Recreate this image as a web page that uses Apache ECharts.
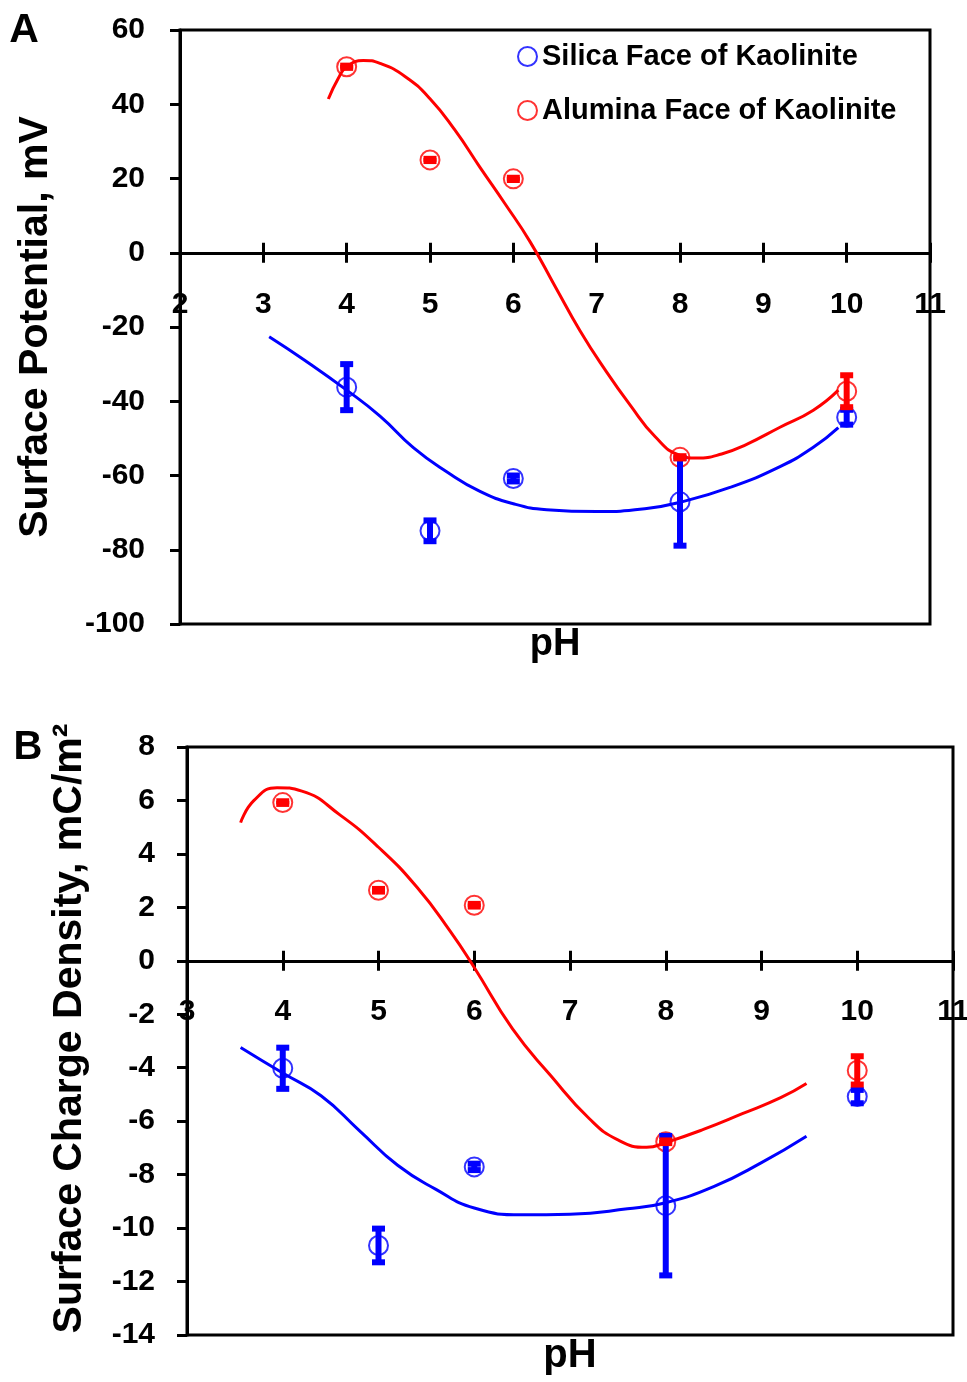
<!DOCTYPE html>
<html>
<head>
<meta charset="utf-8">
<script src="https://cdn.jsdelivr.net/npm/echarts@6/dist/echarts.min.js"></script>
<style>
html,body{margin:0;padding:0;background:#fff;}
#chart{width:967px;height:1382px;}
</style>
</head>
<body>
<div id="chart"></div>
<script>
// ---------- DATA ----------
const pH = [4, 5, 6, 8, 10];

// Panel A: surface potential, mV
const potSilica = [-36.2, -74.9, -60.8, -67.1, -44.3];
const potSilicaErr = [6.2, 2.8, 0.8, 11.8, 2.0];
const potAlumina = [50.1, 25.0, 19.9, -55.1, -37.3];
const potAluminaErr = [0.3, 0.3, 0.3, 0.3, 4.3];

const potSilicaFitPH = [3.07, 3.5, 4.0, 4.4, 4.8, 5.2, 5.6, 6.0, 6.4, 7.0, 7.6, 8.0, 8.6, 9.2, 9.6, 9.9];
const potSilicaFit = [-22.6, -29.0, -37.0, -44.0, -52.5, -59.0, -64.3, -67.6, -69.2, -69.7, -68.9, -67.2, -63.2, -57.6, -52.4, -47.1];
const potAluminaFitPH = [3.78, 3.9, 4.0, 4.2, 4.4, 4.7, 5.0, 5.3, 5.6, 5.9, 6.2, 6.5, 6.8, 7.1, 7.4, 7.7, 8.0, 8.2, 8.5, 8.8, 9.2, 9.6, 9.9];
const potAluminaFit = [41.4, 47.0, 50.1, 51.8, 51.0, 47.5, 41.5, 33.0, 23.0, 13.2, 3.0, -9.0, -21.0, -31.5, -41.0, -49.5, -54.6, -55.3, -54.2, -51.6, -47.0, -42.4, -37.0];

// Panel B: surface charge density, mC/m2
const chgSilica = [-4.02, -10.65, -7.71, -9.16, -5.08];
const chgSilicaErr = [0.77, 0.63, 0.12, 2.61, 0.25];
const chgAlumina = [5.92, 2.64, 2.08, -6.77, -4.1];
const chgAluminaErr = [0.05, 0.05, 0.05, 0.05, 0.53];

const chgSilicaFitPH = [3.56, 4.0, 4.4, 4.8, 5.2, 5.6, 6.0, 6.5, 7.0, 7.6, 8.0, 8.5, 9.0, 9.47];
const chgSilicaFit = [-3.24, -4.2, -5.05, -6.35, -7.65, -8.55, -9.25, -9.5, -9.48, -9.28, -9.05, -8.45, -7.55, -6.56];
const chgAluminaFitPH = [3.56, 3.7, 3.94, 4.2, 4.6, 5.0, 5.4, 5.75, 6.0, 6.4, 6.8, 7.2, 7.5, 7.8, 8.0, 8.4, 8.8, 9.2, 9.47];
const chgAluminaFit = [5.17, 6.0, 6.48, 6.35, 5.45, 4.25, 2.76, 1.1, -0.25, -2.55, -4.3, -5.9, -6.7, -6.98, -6.8, -6.3, -5.72, -5.12, -4.59];

const nameSilica = 'Silica Face of Kaolinite';
const nameAlumina = 'Alumina Face of Kaolinite';
const yTitleA = 'Surface Potential, mV';
const yTitleB = 'Surface Charge Density, mC/m\u00B2';

// ---------- HELPERS ----------
const FONT = 'Liberation Sans, Arial, Helvetica, sans-serif';
const BLUE = '#0000FF', RED = '#FF0000';
const zip = (a, b) => a.map((v, i) => [v, b[i]]);
const errData = (x, v, e) => x.map((xx, i) => [xx, v[i] - e[i], v[i] + e[i]]);

const gridA = {left: 180, top: 30, width: 750, height: 594};
const gridB = {left: 187, top: 747, width: 766, height: 588};
const yRangeA = [-100, 60], yRangeB = [-14, 8];
// offset that moves a bottom x-axis up to the y = 0 line of its grid
const zeroOffset = (g, r) => -g.height * (0 - r[0]) / (r[1] - r[0]);

function errRenderer(color) {
  return function (params, api) {
    const x = api.value(0), lo = api.value(1), hi = api.value(2);
    const pLo = api.coord([x, lo]);
    const pHi = api.coord([x, hi]);
    const bw = 6, cw = 13, ch = 6;
    return {
      type: 'group',
      children: [
        {type: 'rect', shape: {x: pHi[0] - bw / 2, y: pHi[1], width: bw, height: pLo[1] - pHi[1]}, style: {fill: color}},
        {type: 'rect', shape: {x: pHi[0] - cw / 2, y: pHi[1] - ch / 2, width: cw, height: ch}, style: {fill: color}},
        {type: 'rect', shape: {x: pLo[0] - cw / 2, y: pLo[1] - ch / 2, width: cw, height: ch}, style: {fill: color}}
      ]
    };
  };
}

function xAxesFor(gridIndex, min, max, off, labelMargin, nameGap, nameSize) {
  const base = {gridIndex: gridIndex, type: 'value', min: min, max: max, interval: 1, splitLine: {show: false}};
  return [
    Object.assign({}, base, {
      position: 'bottom', offset: off,
      axisLine: {show: true, onZero: false, lineStyle: {color: '#000', width: 3}},
      axisTick: {show: true, inside: false, length: 10, lineStyle: {color: '#000', width: 3}},
      axisLabel: {show: true, margin: labelMargin, color: '#000', fontSize: 30, fontWeight: 'bold', fontFamily: FONT,
                  showMinLabel: true, showMaxLabel: true, hideOverlap: false}
    }),
    Object.assign({}, base, {
      position: 'bottom', offset: off,
      axisLine: {show: false, onZero: false},
      axisTick: {show: true, inside: true, length: 10, lineStyle: {color: '#000', width: 3}},
      axisLabel: {show: false}
    }),
    Object.assign({}, base, {
      position: 'bottom',
      axisLine: {show: false, onZero: false},
      axisTick: {show: false},
      axisLabel: {show: false},
      name: 'pH', nameLocation: 'middle', nameGap: nameGap,
      nameTextStyle: {color: '#000', fontSize: nameSize, fontWeight: 'bold', fontFamily: FONT}
    })
  ];
}

function yAxisFor(gridIndex, range, interval, labelMargin, title, nameGap, pad) {
  return {
    gridIndex: gridIndex, type: 'value', min: range[0], max: range[1], interval: interval, position: 'left',
    splitLine: {show: false},
    axisLine: {show: true, onZero: false, lineStyle: {color: '#000', width: 3}},
    axisTick: {show: true, inside: false, length: 10, lineStyle: {color: '#000', width: 3}},
    axisLabel: {margin: labelMargin, color: '#000', fontSize: 30, fontWeight: 'bold', fontFamily: FONT},
    name: title, nameLocation: 'middle', nameRotate: 90, nameGap: nameGap,
    nameTextStyle: {color: '#000', fontSize: 41, fontWeight: 'bold', fontFamily: FONT, padding: pad}
  };
}

function lineSeries(name, x, y, color, xi, yi) {
  return {name: name, type: 'line', xAxisIndex: xi, yAxisIndex: yi, data: zip(x, y),
          smooth: 0.5,
          showSymbol: false, symbol: 'none', silent: true, z: 2,
          lineStyle: {color: color, width: 3}, itemStyle: {color: color}};
}
function scatterSeries(name, x, y, color, xi, yi) {
  return {name: name, type: 'scatter', xAxisIndex: xi, yAxisIndex: yi, data: zip(x, y),
          symbol: 'circle', symbolSize: 19, z: 3,
          itemStyle: {color: 'rgba(255,255,255,0)', borderColor: color, borderWidth: 2}};
}
function errSeries(name, x, v, e, color, xi, yi) {
  return {name: name, type: 'custom', xAxisIndex: xi, yAxisIndex: yi, data: errData(x, v, e),
          renderItem: errRenderer(color), z: 4, silent: true,
          encode: {x: 0, y: [1, 2]}};
}

// ---------- CHART ----------
const chart = echarts.init(document.getElementById('chart'), null, {renderer: 'canvas'});
const option = {
  backgroundColor: '#fff',
  animation: false,
  grid: [
    Object.assign({show: true, borderColor: '#000', borderWidth: 3, containLabel: false, outerBoundsMode: 'none'}, gridA),
    Object.assign({show: true, borderColor: '#000', borderWidth: 3, containLabel: false, outerBoundsMode: 'none'}, gridB)
  ],
  xAxis: [].concat(
    xAxesFor(0, 2, 11, zeroOffset(gridA, yRangeA), 37, 2, 38),
    xAxesFor(1, 3, 11, zeroOffset(gridB, yRangeB), 36, 1, 40)
  ),
  yAxis: [
    yAxisFor(0, yRangeA, 20, 35, yTitleA, 124, [0, 0, 0, 0]),
    yAxisFor(1, yRangeB, 2, 32, yTitleB, 97, [0, 0, 0, 25])
  ],
  legend: {
    data: [nameSilica, nameAlumina],
    orient: 'vertical', left: 517, top: 42, padding: 0, itemGap: 25,
    itemWidth: 19, itemHeight: 19, selectedMode: false,
    textStyle: {color: '#000', fontSize: 29, fontWeight: 'bold', fontFamily: FONT}
  },
  graphic: [
    {type: 'text', x: 24, y: 31, style: {text: 'A', font: 'bold 41px ' + FONT, fill: '#000', align: 'center', verticalAlign: 'middle'}},
    {type: 'text', x: 28, y: 748, style: {text: 'B', font: 'bold 40px ' + FONT, fill: '#000', align: 'center', verticalAlign: 'middle'}}
  ],
  series: [
    lineSeries('Silica fit A', potSilicaFitPH, potSilicaFit, BLUE, 0, 0),
    lineSeries('Alumina fit A', potAluminaFitPH, potAluminaFit, RED, 0, 0),
    scatterSeries(nameSilica, pH, potSilica, BLUE, 0, 0),
    scatterSeries(nameAlumina, pH, potAlumina, RED, 0, 0),
    errSeries('Silica error A', pH, potSilica, potSilicaErr, BLUE, 0, 0),
    errSeries('Alumina error A', pH, potAlumina, potAluminaErr, RED, 0, 0),

    lineSeries('Silica fit B', chgSilicaFitPH, chgSilicaFit, BLUE, 3, 1),
    lineSeries('Alumina fit B', chgAluminaFitPH, chgAluminaFit, RED, 3, 1),
    scatterSeries(nameSilica, pH, chgSilica, BLUE, 3, 1),
    scatterSeries(nameAlumina, pH, chgAlumina, RED, 3, 1),
    errSeries('Silica error B', pH, chgSilica, chgSilicaErr, BLUE, 3, 1),
    errSeries('Alumina error B', pH, chgAlumina, chgAluminaErr, RED, 3, 1)
  ]
};
chart.setOption(option);
</script>
</body>
</html>
